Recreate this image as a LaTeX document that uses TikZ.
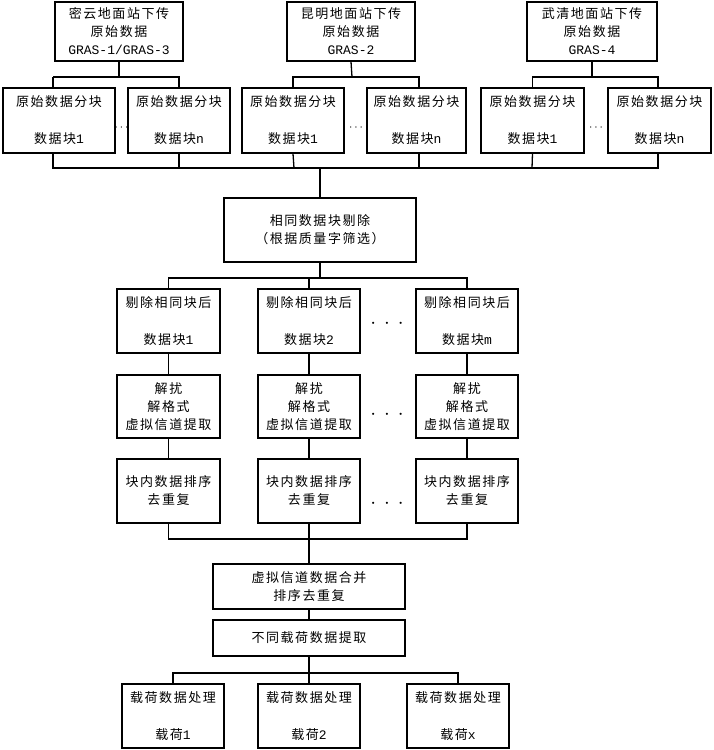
\documentclass[tikz,border=0pt]{standalone}
\usepackage{fontspec}
\setmainfont[LetterSpace=12]{Noto Sans CJK SC}
\newfontfamily\lat{Liberation Mono}
\begin{document}
\begin{tikzpicture}[x=1pt,y=-1pt,line width=1.3pt,
  box/.style={draw,inner sep=0pt,align=center,font=\fontsize{13}{18}\selectfont},
  dotsn/.style={inner sep=0pt,font=\fontsize{13}{16}\selectfont},
  bigdots/.style={inner sep=0pt,font=\fontsize{20}{20}\selectfont}]
\useasboundingbox (0,0) rectangle (713,750);
% top stations
\node[box,minimum width=128,minimum height=59] (A) at (119,31.5) {密云地面站下传\\原始数据\\{\lat GRAS-1/GRAS-3}};
\node[box,minimum width=128,minimum height=59] (B) at (351,31.5) {昆明地面站下传\\原始数据\\{\lat GRAS-2}};
\node[box,minimum width=130,minimum height=59] (C) at (592,31.5) {武清地面站下传\\原始数据\\{\lat GRAS-4}};
% blocks
\node[box,minimum width=112,minimum height=65] (A1) at (59,120.5) {原始数据分块\\[19pt]数据块{\lat 1}};
\node[box,minimum width=102,minimum height=65] (A2) at (179,120.5) {原始数据分块\\[19pt]数据块{\lat n}};
\node[box,minimum width=102,minimum height=65] (B1) at (293,120.5) {原始数据分块\\[19pt]数据块{\lat 1}};
\node[box,minimum width=99,minimum height=65] (Bn) at (416.5,120.5) {原始数据分块\\[19pt]数据块{\lat n}};
\node[box,minimum width=103,minimum height=65] (C1) at (532.5,120.5) {原始数据分块\\[19pt]数据块{\lat 1}};
\node[box,minimum width=103,minimum height=65] (Cn) at (659.5,120.5) {原始数据分块\\[19pt]数据块{\lat n}};
\node[dotsn] (d1) at (121.5,128) {$\cdots$};
\node[dotsn] (d2) at (356,128) {$\cdots$};
\node[dotsn] (d3) at (596,128) {$\cdots$};
% connectors top
\draw (A.south) -- (119,77);
\draw (53,77) -- (A1.north -| 53,0);
\draw (53,77) -- (179,77) -- (A2.north);
\draw (B.south) -- (352,77);
\draw (B1.north) |- (419,77) -- (Bn.north -| 419,0);
\draw (C.south) -- (592,77);
\draw (C1.north) |- (658,77) -- (Cn.north -| 658,0);
% collection
\draw (A1.south -| 53,0) |- (658,168) -- (Cn.south -| 658,0);
\draw (A2.south) -- (179,168);
\draw (B1.south) -- (294,168);
\draw (Bn.south -| 419,0) -- (419,168);
\draw (C1.south) -- (532,168);
% D
\node[box,minimum width=192,minimum height=64] (D) at (320,230) {相同数据块剔除\\（根据质量字筛选）};
\draw (320,168) -- (D.north);
% E row
\node[box,minimum width=103,minimum height=64] (E1) at (168.5,321) {剔除相同块后\\[19pt]数据块{\lat 1}};
\node[box,minimum width=102,minimum height=64] (E2) at (309,321) {剔除相同块后\\[19pt]数据块{\lat 2}};
\node[box,minimum width=102,minimum height=64] (E3) at (467,321) {剔除相同块后\\[19pt]数据块{\lat m}};
\draw (D.south) -- (320,278);
\draw (E1.north) |- (467,278) -- (E3.north);
\draw (309,278) -- (E2.north);
\node[bigdots] (d4) at (387,324) {$\cdot\,\cdot\,\cdot$};
% F row
\node[box,minimum width=103,minimum height=63] (F1) at (168.5,406.5) {解扰\\解格式\\虚拟信道提取};
\node[box,minimum width=102,minimum height=63] (F2) at (309,406.5) {解扰\\解格式\\虚拟信道提取};
\node[box,minimum width=102,minimum height=63] (F3) at (467,406.5) {解扰\\解格式\\虚拟信道提取};
\draw (E1.south) -- (F1.north);
\draw (E2.south) -- (F2.north);
\draw (E3.south) -- (F3.north);
\node[bigdots] (d5) at (387,415) {$\cdot\,\cdot\,\cdot$};
% G row
\node[box,minimum width=103,minimum height=64] (G1) at (168.5,491) {块内数据排序\\去重复};
\node[box,minimum width=102,minimum height=64] (G2) at (309,491) {块内数据排序\\去重复};
\node[box,minimum width=102,minimum height=64] (G3) at (467,491) {块内数据排序\\去重复};
\draw (F1.south) -- (G1.north);
\draw (F2.south) -- (G2.north);
\draw (F3.south) -- (G3.north);
\node[bigdots] (d6) at (387,504) {$\cdot\,\cdot\,\cdot$};
% merge
\node[box,minimum width=192,minimum height=45] (H) at (309,586.5) {虚拟信道数据合并\\排序去重复};
\draw (G1.south) |- (467,539) -- (G3.south);
\draw (G2.south) -- (H.north);
\node[box,minimum width=192,minimum height=36] (I) at (309,638) {不同载荷数据提取};
\draw (H.south) -- (I.north);
% J row
\node[box,minimum width=102,minimum height=64] (J1) at (173,716) {载荷数据处理\\[19pt]载荷{\lat 1}};
\node[box,minimum width=102,minimum height=64] (J2) at (309,716) {载荷数据处理\\[19pt]载荷{\lat 2}};
\node[box,minimum width=102,minimum height=64] (J3) at (458,716) {载荷数据处理\\[19pt]载荷{\lat x}};
\draw (I.south) -- (J2.north);
\draw (J1.north) |- (458,673) -- (J3.north);
\end{tikzpicture}
\end{document}
